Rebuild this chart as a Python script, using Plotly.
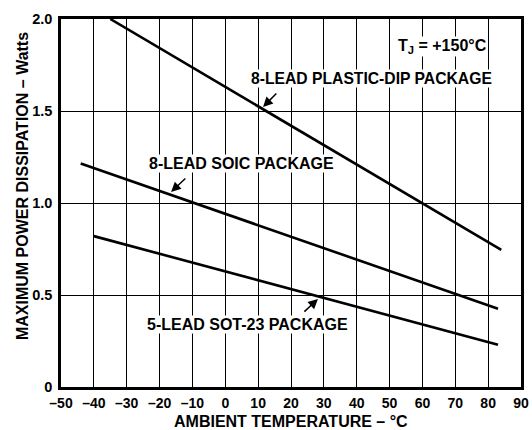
import plotly.graph_objects as go

# Data
pdip_t = [-35, 84]
pdip_p = [2.0, 0.745]
soic_t = [-44, 83]
soic_p = [1.215, 0.425]
sot_t = [-40, 83]
sot_p = [0.82, 0.23]

x_ticks = [-50, -40, -30, -20, -10, 0, 10, 20, 30, 40, 50, 60, 70, 80, 90]
y_ticks = [0, 0.5, 1.0, 1.5, 2.0]
y_ticktext = ["0", "0.5", "1.0", "1.5", "2.0"]

FONT = "Liberation Sans, Arial, sans-serif"

fig = go.Figure()
for t, p in [(pdip_t, pdip_p), (soic_t, soic_p), (sot_t, sot_p)]:
    fig.add_trace(go.Scatter(x=t, y=p, mode="lines",
                             line=dict(color="black", width=2.6),
                             showlegend=False, hoverinfo="skip"))

def lab(text, x, y, size=16):
    return dict(text="<b>%s</b>" % text, x=x, y=y, xref="x", yref="y",
                font=dict(family=FONT, size=size, color="black"),
                bgcolor="white", borderpad=0, showarrow=False)

anns = [
    lab("T<sub>J</sub> = +150°C", 66, 1.848),
    lab("8-LEAD PLASTIC-DIP PACKAGE", 44.6, 1.674, 15.7),
    lab("8-LEAD SOIC PACKAGE", 4.8, 1.212),
    lab("5-LEAD SOT-23 PACKAGE", 6.9, 0.337),
    # axis titles
    dict(text="<b>AMBIENT TEMPERATURE – °C</b>", x=0.5, y=-0.0924,
         xref="paper", yref="paper", xanchor="center", yanchor="middle",
         showarrow=False, font=dict(family=FONT, size=16, color="black")),
    dict(text="<b>MAXIMUM POWER DISSIPATION – Watts</b>", x=-0.0848, y=0.546,
         xref="paper", yref="paper", xanchor="center", yanchor="middle",
         showarrow=False, textangle=-90,
         font=dict(family=FONT, size=16, color="black")),
]
# arrows
for (x, y, ax, ay) in [(11.5, 1.522, 16.0, 1.603),
                       (-16.5, 1.06, -11.7, 1.141),
                       (28.2, 0.478, 23.6, 0.402)]:
    anns.append(dict(x=x, y=y, ax=ax, ay=ay, xref="x", yref="y",
                     axref="x", ayref="y", text="", showarrow=True,
                     arrowhead=2, arrowsize=1.3, arrowwidth=1.5,
                     arrowcolor="black"))

fig.update_layout(
    width=532, height=430,
    margin=dict(l=61, r=11, t=19, b=43),
    paper_bgcolor="white", plot_bgcolor="white",
    font=dict(family=FONT, size=14, color="black"),
    annotations=anns,
    xaxis=dict(range=[-50, 90], tickvals=x_ticks,
               ticktext=["<b>%s</b>" % (str(v).replace("-", "\u2013")) for v in x_ticks],
               tickfont=dict(family=FONT, size=14),
               showgrid=True, gridcolor="black", gridwidth=1,
               showline=True, linecolor="black", linewidth=2.5, mirror=True,
               zeroline=False, ticks="", ticklabelstandoff=1, automargin=False),
    yaxis=dict(range=[0, 2.0], tickvals=y_ticks,
               ticktext=["<b>%s</b>" % s for s in y_ticktext],
               tickfont=dict(family=FONT, size=14.5),
               showgrid=True, gridcolor="black", gridwidth=1,
               showline=True, linecolor="black", linewidth=2.5, mirror=True,
               zeroline=False, ticks="", ticklabelstandoff=3, automargin=False),
)

fig.write_html("out.html", config={"displayModeBar": False},
               post_script="document.body.style.margin='0';document.body.style.overflow='hidden';")
